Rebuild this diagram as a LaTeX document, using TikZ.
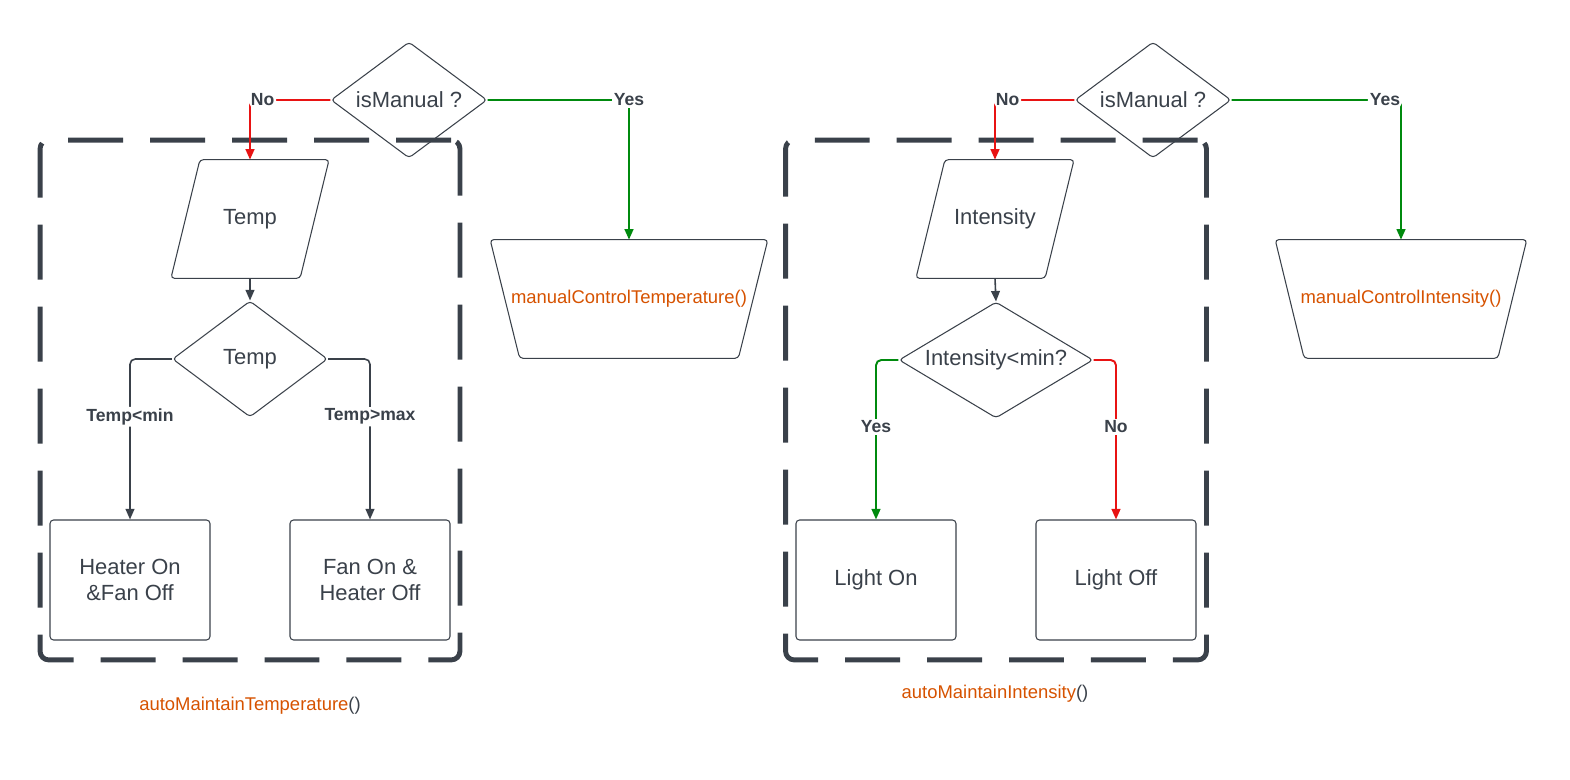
\documentclass[tikz,border=0pt]{standalone}
\usepackage{fontspec}
\setmainfont{Liberation Sans}
\usetikzlibrary{shapes.geometric,arrows.meta}

\definecolor{ink}{HTML}{3A414A}
\definecolor{noRed}{HTML}{E81313}
\definecolor{yesGreen}{HTML}{008A0E}
\definecolor{fnOrange}{RGB}{214,82,0}

\begin{document}
\begin{tikzpicture}[x=0.02cm, y=-0.02cm,
    shapeline/.style={draw=ink, line width=0.6pt, text=ink, font=\fontsize{12.5}{15}\selectfont, align=center, inner sep=1pt},
    border/.style={draw=ink, line width=0.6pt, rounded corners=2pt},
    box/.style={shapeline, rounded corners=2pt, minimum width=3.2cm, minimum height=2.4cm},
    decide/.style={shapeline, diamond, rounded corners=2pt, inner sep=0pt, minimum height=2.32cm},
    datain/.style={text=ink, font=\fontsize{12.5}{15}\selectfont, minimum width=2.57cm, minimum height=2.36cm},
    manual/.style={text=fnOrange, font=\fontsize{10.5}{13}\selectfont, minimum height=2.36cm},
    group/.style={draw=ink, line width=2.8pt, dash pattern=on 1.1cm off 0.54cm, rounded corners=5pt, minimum width=8.4cm, minimum height=10.4cm},
    flow/.style={draw=ink, line width=0.9pt, rounded corners=3pt, -{Triangle[length=6pt,width=5pt]}},
    noline/.style={flow, draw=noRed, line width=1.1pt},
    yesline/.style={flow, draw=yesGreen, line width=1.1pt},
    lbl/.style={fill=white, text=ink, inner sep=1pt, font=\fontsize{10}{12}\selectfont\bfseries},
    fname/.style={text=ink, font=\fontsize{10.5}{13}\selectfont}]

    \useasboundingbox (0,0) rectangle (1570,780);

    % temperature
    \node[group] (groupT) at (250,400) {};
    \node[decide, aspect=1.34, minimum width=3.12cm] (ismT) at (409,100) {isManual ?};
    \node[datain] (tempIn) at (250,219) {Temp};
    \draw[border] ([xshift=-0.29cm]tempIn.south west) -- ([xshift=0.29cm]tempIn.north west)
        -- ([xshift=0.29cm]tempIn.north east) -- ([xshift=-0.29cm]tempIn.south east) -- cycle;
    \node[decide, aspect=1.34, minimum width=3.1cm] (tempDec) at (250,359) {Temp};
    \node[box] (heater) at (130,580) {Heater On\\\&Fan Off};
    \node[box] (fan) at (370,580) {Fan On \&\\Heater Off};
    \node[manual, minimum width=4.95cm] (manT) at (629,299) {manualControlTemperature()};
    \draw[border] ([xshift=-0.295cm]manT.north west) -- ([xshift=0.295cm]manT.north east)
        -- ([xshift=-0.295cm]manT.south east) -- ([xshift=0.295cm]manT.south west) -- cycle;
    \node[fname] (autoT) at (250,706) {\textcolor{fnOrange}{autoMaintainTemperature}()};

    \draw[noline] (ismT.west) -| node[lbl, anchor=west, xshift=-1pt] {No} (tempIn.north);
    \draw[yesline] (ismT.east) -| node[lbl] {Yes} (manT.north);
    \draw[flow] (tempIn.south) -- (tempDec.north);
    \draw[flow] (tempDec.west) -| node[lbl, pos=0.68] {Temp<min} (heater.north);
    \draw[flow] (tempDec.east) -| node[lbl, pos=0.68] {Temp>max} (fan.north);

    % intensity
    \node[group, minimum width=8.42cm] (groupI) at (996,400) {};
    \node[decide, aspect=1.34, minimum width=3.12cm] (ismI) at (1153,100) {isManual ?};
    \node[datain] (intIn) at (995,219) {Intensity};
    \draw[border] ([xshift=-0.29cm]intIn.south west) -- ([xshift=0.29cm]intIn.north west)
        -- ([xshift=0.29cm]intIn.north east) -- ([xshift=-0.29cm]intIn.south east) -- cycle;
    \node[decide, aspect=1.67, minimum width=3.88cm] (intDec) at (996,360) {Intensity<min?};
    \node[box] (lightOn) at (876,580) {Light On};
    \node[box] (lightOff) at (1116,580) {Light Off};
    \node[manual, minimum width=4.44cm] (manI) at (1401,299) {manualControlIntensity()};
    \draw[border] ([xshift=-0.29cm]manI.north west) -- ([xshift=0.29cm]manI.north east)
        -- ([xshift=-0.29cm]manI.south east) -- ([xshift=0.29cm]manI.south west) -- cycle;
    \node[fname] (autoI) at (995,694) {\textcolor{fnOrange}{autoMaintainIntensity}()};

    \draw[noline] (ismI.west) -| node[lbl, anchor=west, xshift=-1pt] {No} (intIn.north);
    \draw[yesline] (ismI.east) -| node[lbl, anchor=east, xshift=1pt] {Yes} (manI.north);
    \draw[flow] (intIn.south) -- (intDec.north);
    \draw[yesline] (intDec.west) -| node[lbl, pos=0.71] {Yes} (lightOn.north);
    \draw[noline] (intDec.east) -| node[lbl, pos=0.71] {No} (lightOff.north);
\end{tikzpicture}
\end{document}
